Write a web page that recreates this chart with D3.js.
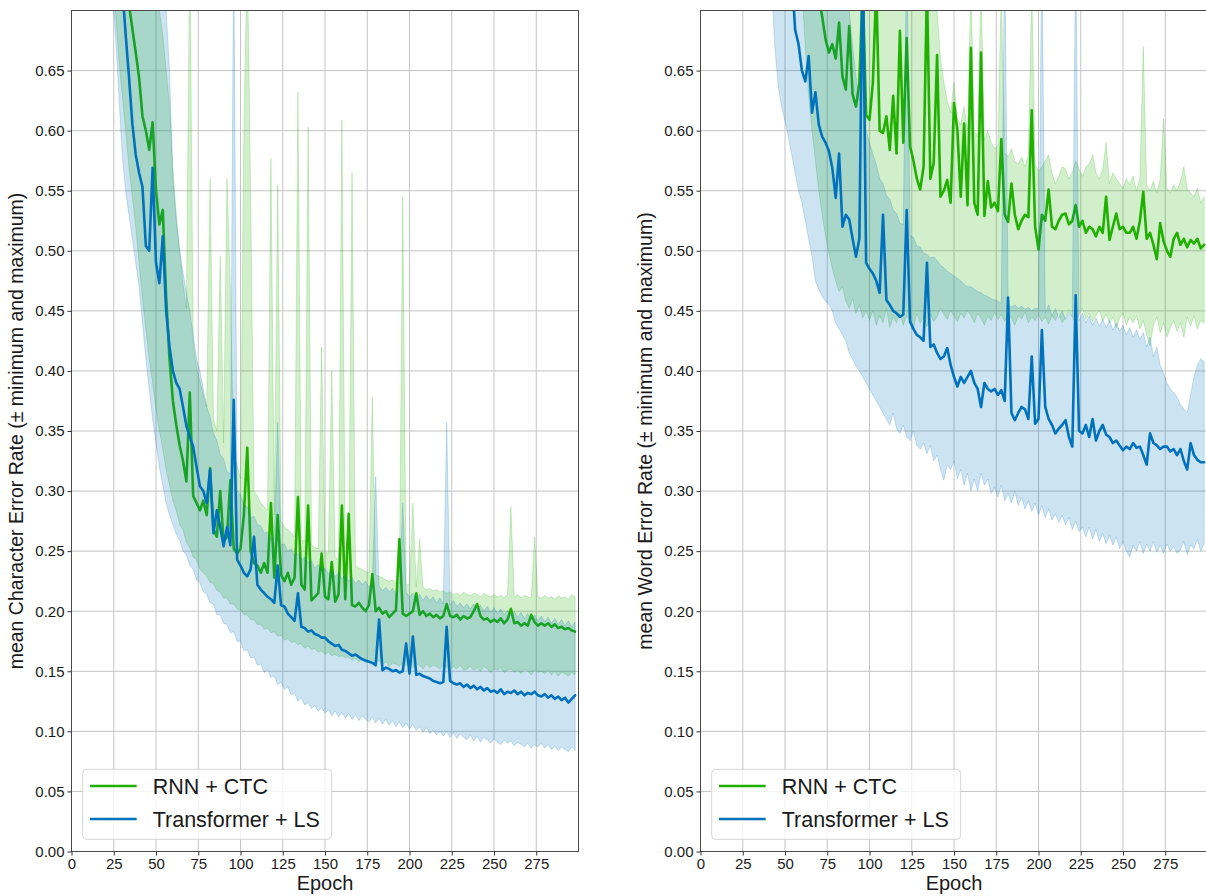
<!DOCTYPE html>
<html>
<head>
<meta charset="utf-8">
<script src="https://cdn.jsdelivr.net/npm/d3@7"></script>
<style>
  body { margin: 0; background: #fff; }
  svg { display: block; }
  text { font-family: "Liberation Sans", Arial, Helvetica, sans-serif; fill: #1a1a1a; }
</style>
</head>
<body>
<svg id="chart" width="1206" height="896"></svg>
<script>
// Sampled epochs (every second epoch from 20 to 298)
const epochs = d3.range(20, 300, 2);

const xTicks = [0, 25, 50, 75, 100, 125, 150, 175, 200, 225, 250, 275];
const yTicks = [0, 0.05, 0.10, 0.15, 0.20, 0.25, 0.30, 0.35, 0.40, 0.45, 0.50, 0.55, 0.60, 0.65];
const seriesNames = ["RNN + CTC", "Transformer + LS"];

// Error rates in thousandths, one value per sampled epoch.
// Character error rate, RNN + CTC
const cerRnnMean = [
  950, 900, 860, 820, 790, 760, 735, 705, 685, 665,
  644, 612, 600, 584, 607, 550, 522, 534, 462, 410,
  375, 355, 338, 325, 308, 382, 296, 290, 284, 292,
  280, 319, 268, 262, 300, 258, 262, 309, 252, 248,
  252, 280, 336, 250, 240, 238, 232, 240, 232, 290,
  228, 280, 230, 225, 232, 222, 228, 295, 222, 218,
  288, 209, 212, 215, 248, 212, 210, 241, 208, 214,
  288, 210, 281, 205, 204, 207, 203, 200, 205, 231,
  200, 203, 198, 200, 195, 198, 201, 260, 198, 196,
  198, 200, 215, 197, 200, 196, 198, 195, 197, 194,
  196, 206, 196, 195, 197, 193, 196, 194, 195, 200,
  206, 196, 193, 194, 191, 193, 191, 194, 190, 193,
  202, 190, 191, 188, 190, 188, 197, 191, 188, 190,
  188, 190, 187, 189, 186, 187, 185, 186, 184, 183
];
const cerRnnMin = [
  760, 740, 720, 700, 660, 630, 600, 570, 545, 520,
  490, 460, 435, 410, 390, 368, 350, 335, 318, 305,
  292, 284, 272, 268, 257, 253, 245, 243, 235, 232,
  229, 224, 223, 217, 216, 211, 211, 206, 206, 202,
  201, 197, 197, 193, 193, 189, 189, 185, 186, 182,
  183, 179, 180, 176, 177, 174, 175, 172, 173, 169,
  171, 168, 169, 166, 167, 164, 166, 163, 164, 162,
  163, 161, 162, 159, 161, 158, 160, 157, 159, 157,
  157, 159, 155, 158, 154, 157, 156, 154, 157, 155,
  156, 153, 156, 155, 152, 156, 153, 155, 154, 152,
  155, 153, 151, 154, 152, 155, 151, 152, 154, 151,
  153, 150, 154, 152, 149, 152, 151, 153, 149, 151,
  152, 149, 151, 148, 152, 150, 147, 151, 149, 150,
  148, 151, 147, 150, 146, 149, 148, 146, 149, 147
];
const cerRnnMax = [
  950, 950, 950, 950, 950, 950, 950, 950, 950, 950,
  800, 780, 760, 750, 740, 720, 700, 680, 650, 622,
  570, 530, 500, 472, 452, 760, 425, 402, 392, 380,
  370, 560, 360, 350, 496, 340, 560, 470, 330, 322,
  310, 600, 750, 550, 300, 296, 290, 287, 284, 577,
  280, 555, 275, 270, 268, 265, 262, 632, 260, 258,
  603, 255, 253, 252, 420, 250, 248, 400, 245, 243,
  609, 240, 240, 565, 238, 236, 235, 233, 232, 378,
  230, 229, 228, 226, 225, 226, 224, 223, 545, 222,
  222, 290, 220, 260, 220, 218, 219, 217, 218, 216,
  217, 215, 216, 214, 215, 213, 216, 214, 213, 215,
  214, 212, 215, 213, 212, 214, 212, 213, 211, 214,
  287, 212, 214, 211, 213, 212, 211, 262, 212, 211,
  213, 211, 212, 210, 213, 211, 212, 210, 214, 212
];
// Character error rate, Transformer + LS
const cerTfMean = [
  950, 900, 850, 800, 760, 720, 681, 645, 606, 580,
  565, 553, 504, 500, 569, 490, 473, 512, 450, 420,
  400, 390, 385, 370, 354, 345, 337, 320, 304, 300,
  290, 318, 265, 284, 270, 254, 270, 255, 376, 243,
  238, 232, 229, 235, 262, 222, 218, 215, 212, 210,
  207, 238, 205, 204, 198, 195, 192, 215, 187, 186,
  183, 184, 181, 180, 178, 178, 175, 173, 171, 172,
  168, 167, 165, 163, 164, 162, 160, 159, 158, 157,
  155, 193, 151, 153, 152, 150, 151, 149, 150, 173,
  148, 179, 147, 148, 146, 145, 144, 142, 141, 140,
  141, 187, 142, 140, 139, 140, 137, 139, 136, 138,
  135, 137, 134, 136, 133, 134, 132, 135, 131, 133,
  132, 134, 131, 133, 130, 132, 131, 133, 130, 129,
  131, 128, 130, 127, 129, 126, 128, 124, 127, 130
];
const cerTfMin = [
  800, 760, 720, 680, 630, 580, 550, 530, 510, 490,
  470, 440, 410, 385, 360, 340, 320, 305, 290, 280,
  272, 264, 259, 250, 247, 238, 235, 226, 224, 216,
  214, 207, 206, 197, 197, 190, 189, 182, 183, 175,
  175, 167, 168, 161, 162, 155, 156, 149, 151, 145,
  146, 139, 141, 135, 137, 130, 132, 125, 128, 122,
  124, 119, 122, 117, 120, 115, 118, 113, 117, 112,
  116, 111, 115, 110, 114, 109, 113, 110, 108, 112,
  107, 111, 106, 110, 105, 109, 104, 108, 103, 107,
  102, 106, 101, 104, 99, 103, 98, 101, 97, 100,
  96, 100, 95, 99, 94, 98, 95, 93, 97, 92,
  96, 91, 95, 93, 90, 94, 91, 89, 93, 90,
  92, 88, 91, 89, 87, 90, 86, 89, 87, 90,
  86, 89, 85, 88, 84, 87, 85, 83, 87, 84
];
const cerTfMax = [
  950, 950, 950, 950, 950, 950, 950, 950, 950, 950,
  780, 770, 760, 750, 740, 730, 720, 710, 700, 650,
  560, 525, 500, 482, 465, 450, 430, 410, 400, 385,
  370, 362, 348, 342, 330, 327, 316, 314, 760, 300,
  297, 288, 287, 278, 279, 272, 271, 265, 266, 260,
  262, 357, 255, 256, 250, 252, 246, 248, 243, 245,
  240, 242, 236, 239, 234, 236, 231, 234, 229, 232,
  227, 230, 225, 228, 223, 226, 222, 225, 220, 223,
  312, 221, 217, 220, 216, 219, 214, 218, 290, 216,
  212, 215, 211, 214, 209, 213, 209, 212, 207, 211,
  206, 357, 205, 209, 204, 207, 203, 206, 202, 206,
  201, 205, 200, 204, 199, 203, 198, 202, 197, 201,
  196, 200, 195, 199, 194, 198, 193, 197, 192, 196,
  191, 195, 190, 194, 189, 193, 188, 192, 187, 191
];
// Word error rate, RNN + CTC
const werRnnMean = [
  950, 950, 950, 950, 950, 950, 950, 950, 950, 950,
  950, 950, 950, 950, 950, 950, 950, 950, 950, 950,
  860, 820, 790, 760, 730, 710, 695, 676, 665, 672,
  660, 690, 645, 634, 687, 630, 620, 640, 720, 613,
  609, 640, 720, 600, 598, 612, 584, 629, 581, 683,
  590, 677, 587, 575, 560, 551, 570, 720, 560, 573,
  663, 545, 550, 559, 540, 623, 600, 545, 606, 538,
  669, 540, 530, 665, 529, 558, 536, 540, 533, 593,
  530, 524, 556, 530, 518, 525, 530, 528, 617, 520,
  501, 530, 525, 551, 520, 518, 525, 530, 531, 522,
  525, 538, 520, 525, 515, 520, 518, 512, 520, 515,
  545, 509, 520, 531, 518, 520, 515, 515, 520, 510,
  525, 549, 510, 515, 505, 493, 523, 508, 500, 495,
  510, 515, 505, 510, 503, 509, 506, 510, 502, 505
];
const werRnnMin = [
  950, 950, 950, 950, 950, 950, 950, 950, 950, 950,
  950, 950, 950, 950, 950, 950, 950, 900, 850, 780,
  720, 670, 630, 600, 575, 550, 530, 512, 498, 485,
  475, 466, 470, 458, 452, 460, 448, 455, 444, 450,
  442, 450, 438, 446, 440, 452, 436, 445, 440, 448,
  438, 446, 442, 436, 448, 440, 445, 437, 447, 441,
  445, 452, 447, 443, 450, 446, 441, 448, 444, 450,
  446, 440, 448, 444, 438, 446, 442, 449, 443, 447,
  441, 448, 444, 438, 446, 443, 449, 440, 445, 442,
  447, 441, 445, 439, 446, 442, 448, 440, 444, 451,
  445, 439, 447, 452, 443, 448, 441, 446, 450, 442,
  447, 440, 445, 436, 444, 448, 438, 445, 440, 446,
  435, 442, 430, 421, 438, 445, 432, 440, 428, 436,
  442, 433, 440, 428, 445, 437, 446, 435, 442, 440
];
const werRnnMax = [
  950, 950, 950, 950, 950, 950, 950, 950, 950, 950,
  950, 950, 950, 950, 950, 950, 950, 950, 950, 950,
  950, 950, 950, 950, 950, 950, 950, 950, 950, 950,
  950, 950, 950, 950, 950, 950, 950, 950, 950, 950,
  950, 950, 950, 950, 950, 950, 950, 950, 950, 950,
  950, 950, 950, 950, 950, 950, 950, 950, 950, 950,
  700, 660, 640, 625, 615, 640, 610, 605, 620, 600,
  720, 600, 595, 720, 592, 600, 590, 585, 588, 720,
  582, 578, 585, 575, 572, 578, 570, 580, 720, 572,
  566, 570, 575, 580, 565, 556, 562, 570, 568, 560,
  565, 575, 568, 562, 570, 572, 580, 565, 560, 568,
  590, 556, 565, 560, 556, 552, 560, 555, 562, 550,
  560, 670, 555, 550, 558, 548, 560, 610, 552, 548,
  555, 550, 558, 570, 552, 548, 545, 552, 540, 545
];
// Word error rate, Transformer + LS
const werTfMean = [
  950, 950, 950, 950, 950, 950, 950, 950, 950, 950,
  950, 950, 950, 950, 900, 850, 790, 730, 684, 672,
  650, 641, 662, 615, 632, 605, 595, 590, 583, 569,
  544, 581, 520, 530, 526, 510, 495, 510, 750, 490,
  485, 481, 475, 465, 530, 459, 455, 450, 448, 445,
  447, 534, 441, 435, 430, 428, 425, 490, 420, 422,
  415, 410, 412, 419, 405, 395, 387, 395, 390, 395,
  400, 390, 385, 370, 390, 385, 383, 385, 380, 384,
  375, 461, 365, 359, 365, 370, 368, 360, 412, 356,
  360, 434, 370, 360, 355, 348, 352, 355, 359, 345,
  337, 463, 350, 348, 355, 345, 360, 342, 350, 355,
  347, 345, 340, 342, 338, 334, 337, 335, 340, 336,
  337, 330, 322, 348, 340, 338, 335, 337, 337, 333,
  335, 330, 335, 325, 318, 340, 330, 326, 324, 324
];
const werTfMin = [
  950, 950, 950, 950, 950, 950, 950, 950, 950, 950,
  760, 720, 670, 637, 620, 608, 595, 580, 565, 550,
  540, 525, 510, 495, 475, 468, 462, 458, 455, 450,
  440, 435, 430, 425, 415, 410, 404, 400, 395, 390,
  385, 380, 375, 370, 365, 360, 355, 365, 352, 348,
  355, 345, 342, 350, 338, 335, 340, 331, 338, 325,
  330, 318, 309, 322, 318, 325, 310, 318, 305, 315,
  300, 310, 300, 315, 305, 310, 298, 303, 295, 305,
  292, 298, 290, 300, 288, 295, 285, 292, 283, 290,
  280, 288, 278, 285, 276, 281, 274, 280, 272, 278,
  268, 275, 266, 270, 262, 270, 260, 268, 258, 265,
  256, 263, 255, 262, 252, 258, 250, 245, 255, 250,
  258, 248, 256, 250, 258, 249, 255, 248, 256, 250,
  254, 248, 251, 258, 247, 255, 252, 260, 250, 256
];
const werTfMax = [
  950, 950, 950, 950, 950, 950, 950, 950, 950, 950,
  950, 950, 950, 950, 950, 950, 950, 950, 950, 950,
  950, 950, 950, 950, 950, 950, 950, 950, 950, 950,
  950, 900, 800, 740, 700, 670, 645, 625, 760, 600,
  590, 580, 572, 560, 556, 546, 543, 534, 531, 523,
  522, 760, 513, 511, 504, 503, 498, 497, 494, 495,
  492, 488, 486, 483, 481, 479, 477, 475, 472, 470,
  470, 468, 466, 465, 463, 462, 460, 459, 458, 456,
  760, 456, 453, 455, 452, 454, 451, 453, 450, 452,
  452, 760, 448, 455, 446, 452, 444, 450, 443, 449,
  445, 760, 442, 448, 440, 446, 438, 444, 437, 443,
  436, 442, 434, 440, 433, 438, 430, 436, 428, 434,
  426, 432, 420, 428, 412, 420, 405, 398, 390, 385,
  382, 378, 372, 368, 365, 380, 395, 405, 410, 408
];

const green = "#20b000";
const blue = "#0072bd";

const panels = [
  {
    id: "cer", left: 71.5,
    yLabel: "mean Character Error Rate (\u00b1 minimum and maximum)",
    series: [
      { name: seriesNames[0], color: green, mean: cerRnnMean, min: cerRnnMin, max: cerRnnMax },
      { name: seriesNames[1], color: blue, mean: cerTfMean, min: cerTfMin, max: cerTfMax }
    ]
  },
  {
    id: "wer", left: 700.5,
    yLabel: "mean Word Error Rate (\u00b1 minimum and maximum)",
    series: [
      { name: seriesNames[0], color: green, mean: werRnnMean, min: werRnnMin, max: werRnnMax },
      { name: seriesNames[1], color: blue, mean: werTfMean, min: werTfMin, max: werTfMax }
    ]
  }
];

const plotTop = 10.5, plotBottom = 851.5, plotW = 507;
const svg = d3.select("#chart");
const defs = svg.append("defs");

panels.forEach(p => {
  const x = d3.scaleLinear().domain([0, 300]).range([p.left, p.left + plotW]);
  const y = d3.scaleLinear().domain([0, 0.7]).range([plotBottom, plotTop]);
  const g = svg.append("g");

  defs.append("clipPath").attr("id", "clip-" + p.id)
    .append("rect")
    .attr("x", x(0)).attr("y", plotTop)
    .attr("width", plotW).attr("height", plotBottom - plotTop);

  // grid
  g.append("g").selectAll("line").data(xTicks.filter(t => t > 0)).join("line")
    .attr("x1", d => x(d)).attr("x2", d => x(d))
    .attr("y1", plotTop).attr("y2", plotBottom)
    .attr("stroke", "#c4c4c4").attr("stroke-width", 1);
  g.append("g").selectAll("line").data(yTicks.filter(t => t > 0)).join("line")
    .attr("x1", x(0)).attr("x2", x(300))
    .attr("y1", d => y(d)).attr("y2", d => y(d))
    .attr("stroke", "#c4c4c4").attr("stroke-width", 1);

  const plot = g.append("g").attr("clip-path", "url(#clip-" + p.id + ")");

  p.series.forEach(s => {
    const area = d3.area()
      .x((d, i) => x(epochs[i]))
      .y0((d, i) => y(s.min[i] / 1000))
      .y1((d, i) => y(s.max[i] / 1000));
    plot.append("path")
      .datum(epochs)
      .attr("d", area)
      .attr("fill", s.color).attr("fill-opacity", 0.2)
      .attr("stroke", s.color).attr("stroke-opacity", 0.2).attr("stroke-width", 1);

    const line = d3.line()
      .x((d, i) => x(epochs[i]))
      .y((d, i) => y(s.mean[i] / 1000));
    plot.append("path")
      .datum(epochs)
      .attr("d", line)
      .attr("fill", "none")
      .attr("stroke", s.color).attr("stroke-width", 2.6)
      .attr("stroke-linejoin", "round").attr("stroke-linecap", "round");
  });

  // frame
  g.append("rect")
    .attr("x", x(0)).attr("y", plotTop)
    .attr("width", plotW).attr("height", plotBottom - plotTop)
    .attr("fill", "none").attr("stroke", "#4a4a4a").attr("stroke-width", 1);

  // axes
  const xAxis = g.append("g").attr("transform", `translate(0,${plotBottom})`)
    .call(d3.axisBottom(x).tickValues(xTicks).tickSize(4).tickPadding(3).tickFormat(d3.format("d")));
  const yAxis = g.append("g").attr("transform", `translate(${x(0)},0)`)
    .call(d3.axisLeft(y).tickValues(yTicks).tickSize(4).tickPadding(3).tickFormat(d3.format(".2f")));
  [xAxis, yAxis].forEach(a => {
    a.select(".domain").remove();
    a.selectAll(".tick line").attr("stroke", "#333");
    a.selectAll(".tick text").attr("font-size", 15).attr("fill", "#1a1a1a")
      .style("font-family", "'Liberation Sans', Arial, Helvetica, sans-serif");
  });

  // axis labels
  g.append("text")
    .attr("x", x(150)).attr("y", 890)
    .attr("text-anchor", "middle").attr("font-size", 20)
    .text("Epoch");
  g.append("text")
    .attr("transform", `translate(${p.left - 49},${(plotTop + plotBottom) / 2}) rotate(-90)`)
    .attr("text-anchor", "middle").attr("font-size", 19.5)
    .text(p.yLabel);

  // legend
  const lg = g.append("g").attr("transform", `translate(${p.left + 11.2},769.3)`);
  lg.append("rect")
    .attr("width", 249).attr("height", 70).attr("rx", 4)
    .attr("fill", "#fff").attr("fill-opacity", 0.8)
    .attr("stroke", "#d6d6d6").attr("stroke-width", 1);
  p.series.forEach((s, i) => {
    const cy = 16.7 + i * 33;
    lg.append("line")
      .attr("x1", 7.3).attr("x2", 54).attr("y1", cy).attr("y2", cy)
      .attr("stroke", s.color).attr("stroke-width", 2.6);
    lg.append("text")
      .attr("x", 70).attr("y", cy + 7.7)
      .attr("font-size", 21.5)
      .text(s.name);
  });
});
</script>
</body>
</html>
